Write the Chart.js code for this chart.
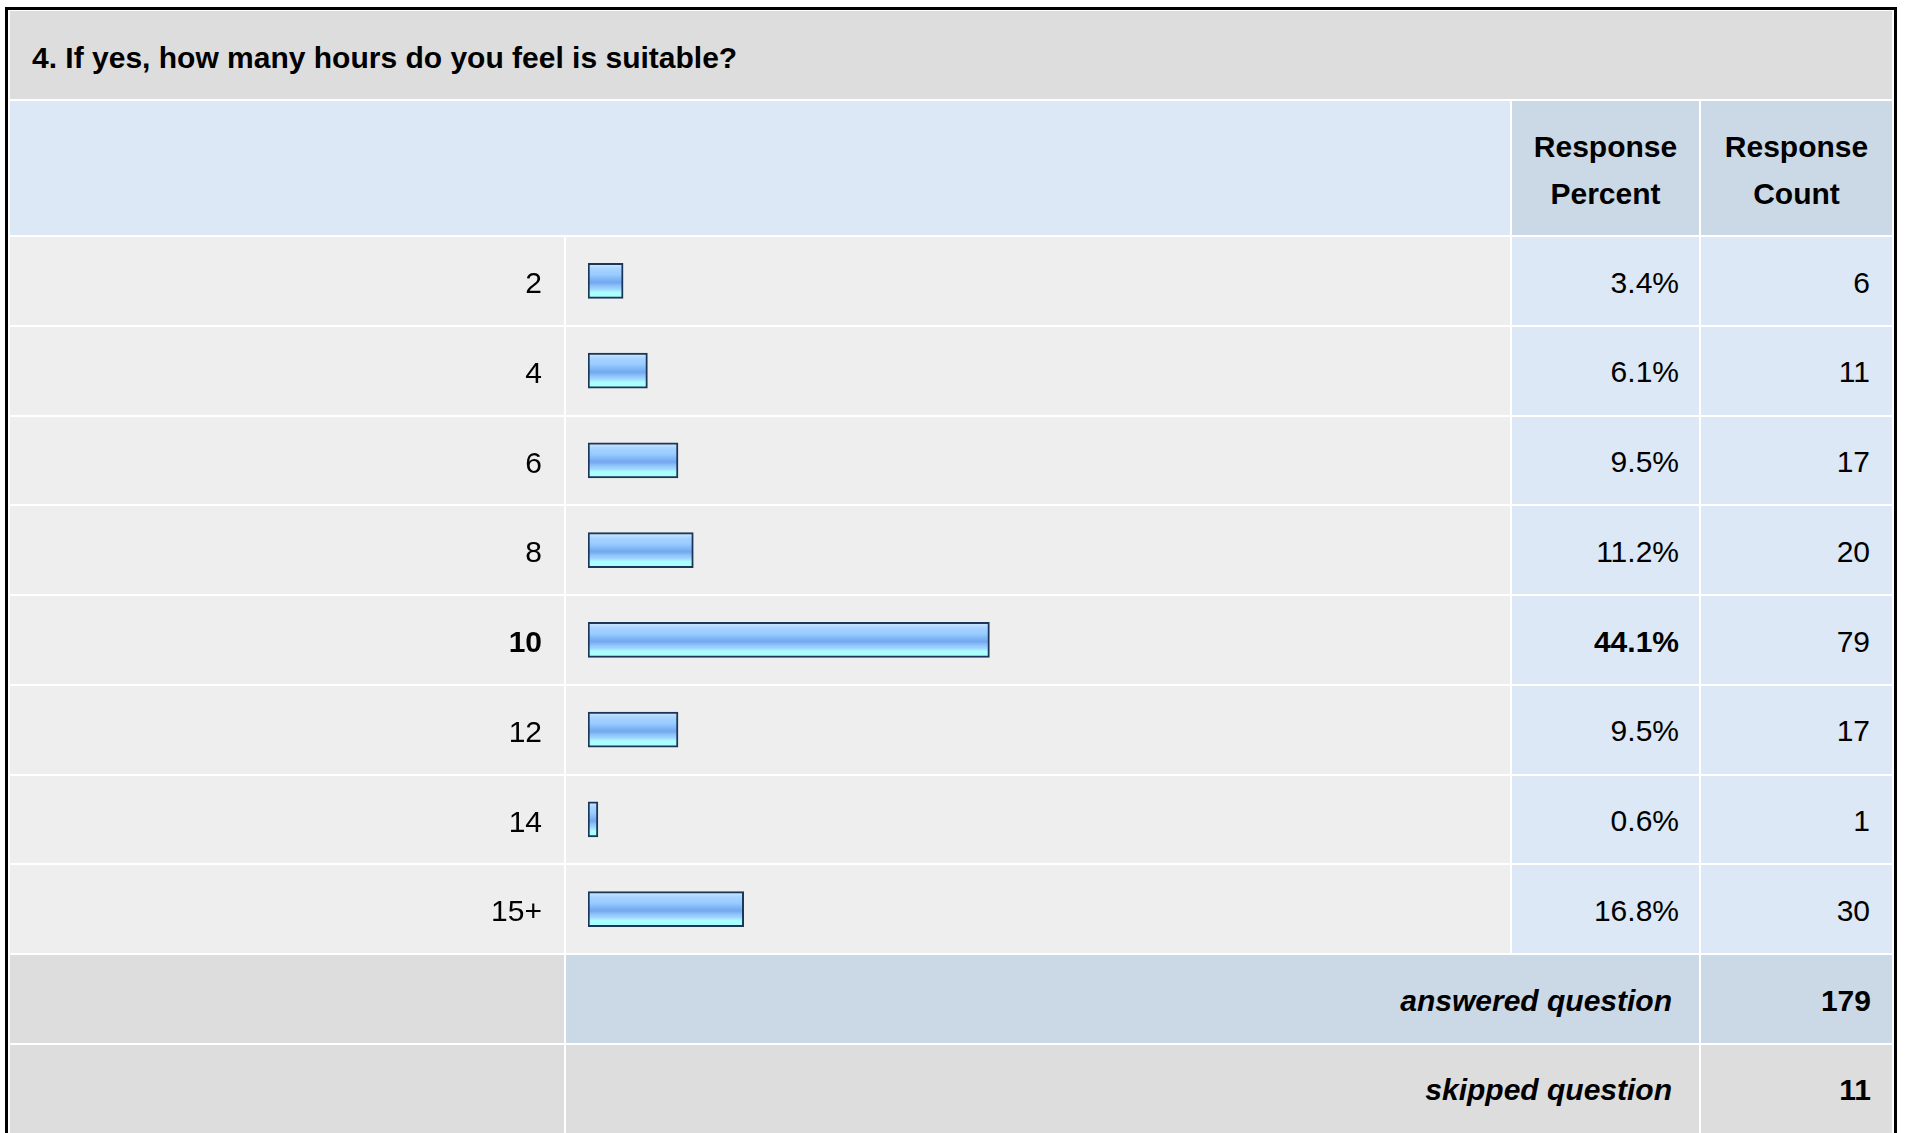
<!DOCTYPE html>
<html>
<head>
<meta charset="utf-8">
<title>Survey question 4</title>
<script src="https://cdn.jsdelivr.net/npm/chart.js@4/dist/chart.umd.min.js"></script>
<style>
    html, body { margin: 0; padding: 0; background: #fff; }
    body { width: 1907px; height: 1133px; overflow: hidden; position: relative;
           font-family: "Liberation Sans", Arial, sans-serif; font-size: 30px; color: #000; }
    .frame { position: absolute; left: 5px; top: 7px; width: 1886px; height: 1140px;
             border: 3px solid #000; background: #fff; }
    .cell { position: absolute; }
    .txt { position: absolute; line-height: 30px; white-space: nowrap; }
    .r { text-align: right; }
    .c { text-align: center; }
    .b { font-weight: bold; }
    .i { font-style: italic; }
    #chartWrap { position: absolute; left: 10px; top: 236px; }
</style>
</head>
<body>
<div class="frame"></div>
<div id="cells"></div>
<div id="texts"></div>
<div id="chartWrap"><canvas id="chart" width="1500" height="718"></canvas></div>

<script>
// Data read from the SurveyMonkey style summary
const question = '4. If yes, how many hours do you feel is suitable?';
const hours = ['2', '4', '6', '8', '10', '12', '14', '15+'];
const percents = [3.4, 6.1, 9.5, 11.2, 44.1, 9.5, 0.6, 16.8];
const counts = [6, 11, 17, 20, 79, 17, 1, 30];
const answeredCount = 179;
const skippedCount = 11;

const FONT = '"Liberation Sans", Arial, sans-serif';
const FSIZE = 30;
const top1 = percents.indexOf(Math.max(...percents));

// Table grid (page pixels)
const colX = { l0: 10, l1: 564, b0: 566, b1: 1510, p0: 1512, p1: 1699, c0: 1701, c1: 1892 };
const rowH = 89.75, row0 = 237;
const rowTop = i => row0 + i * rowH;

const cells = document.getElementById('cells');
const texts = document.getElementById('texts');

function cell(x0, x1, y0, y1, bg) {
    const d = document.createElement('div');
    d.className = 'cell';
    d.style.cssText = `left:${x0}px;top:${y0}px;width:${x1 - x0}px;height:${y1 - y0}px;background:${bg}`;
    cells.appendChild(d);
}
function text(str, cls, baseline, opts) {
    const d = document.createElement('div');
    d.className = 'txt ' + cls;
    d.textContent = str;
    let css = `top:${baseline - 25.4}px;`;
    if (opts.left != null) css += `left:${opts.left}px;`;
    if (opts.right != null) css += `right:${1907 - opts.right}px;`;
    if (opts.x0 != null) css += `left:${opts.x0}px;width:${opts.x1 - opts.x0}px;`;
    d.style.cssText = css;
    texts.appendChild(d);
}

// title + header band
cell(colX.l0, colX.c1, 11, 99, '#dddddd');
text(question, 'b', 68, { left: 32 });
cell(colX.l0, colX.b1, 101, 235, '#dce8f5');
cell(colX.p0, colX.p1, 101, 235, '#cbd8e6');
cell(colX.c0, colX.c1, 101, 235, '#cbd8e6');
text('Response', 'b c', 157, { x0: colX.p0, x1: colX.p1 });
text('Percent', 'b c', 204, { x0: colX.p0, x1: colX.p1 });
text('Response', 'b c', 157, { x0: colX.c0, x1: colX.c1 });
text('Count', 'b c', 204, { x0: colX.c0, x1: colX.c1 });

// answer rows
hours.forEach((h, i) => {
    const y0 = rowTop(i), y1 = y0 + rowH - 2;
    cell(colX.l0, colX.l1, y0, y1, '#eeeeee');
    cell(colX.b0, colX.b1, y0, y1, '#eeeeee');
    cell(colX.p0, colX.p1, y0, y1, '#dce8f5');
    cell(colX.c0, colX.c1, y0, y1, '#dce8f5');
    text(percents[i].toFixed(1) + '%', 'r' + (i === top1 ? ' b' : ''), y0 + 56, { right: 1679 });
    text(String(counts[i]), 'r', y0 + 56, { right: 1870 });
});

// footer rows
const ya = rowTop(hours.length), ys = rowTop(hours.length + 1);
cell(colX.l0, colX.l1, ya, ya + rowH - 2, '#dddddd');
cell(colX.b0, colX.p1, ya, ya + rowH - 2, '#cbd8e6');
cell(colX.c0, colX.c1, ya, ya + rowH - 2, '#cbd8e6');
cell(colX.l0, colX.l1, ys, 1140, '#dddddd');
cell(colX.b0, colX.p1, ys, 1140, '#dddddd');
cell(colX.c0, colX.c1, ys, 1140, '#dddddd');
text('answered question', 'r b i', ya + 56, { right: 1672 });
text(String(answeredCount), 'r b', ya + 56, { right: 1871 });
text('skipped question', 'r b i', ys + 56, { right: 1672 });
text(String(skippedCount), 'r b', ys + 56, { right: 1871 });

// striped blue bar fill, one gradient per bar
function barFill(c) {
    const { ctx, scales } = c.chart;
    if (!scales.y || c.dataIndex == null) return '#99ccff';
    const yc = scales.y.getPixelForValue(c.dataIndex);
    if (!isFinite(yc)) return '#99ccff';
    const g = ctx.createLinearGradient(0, yc - 16, 0, yc + 16);
    g.addColorStop(0, '#c8e4ff');
    g.addColorStop(0.12, '#a8d4ff');
    g.addColorStop(0.3, '#99ccff');
    g.addColorStop(0.45, '#80b6f6');
    g.addColorStop(0.55, '#72a8ee');
    g.addColorStop(0.66, '#8ec2fa');
    g.addColorStop(0.76, '#a0d6ff');
    g.addColorStop(0.86, '#aaffff');
    g.addColorStop(1, '#aaffff');
    return g;
}

new Chart(document.getElementById('chart'), {
    type: 'bar',
    data: {
        labels: hours,
        datasets: [{
            data: percents,
            base: -0.5,
            backgroundColor: barFill,
            borderColor: '#1b3658',
            borderWidth: 2,
            borderSkipped: false,
            barThickness: 35,
        }]
    },
    options: {
        indexAxis: 'y',
        responsive: false,
        animation: false,
        layout: { padding: { left: 0, right: 17.5, top: 0, bottom: 0 } },
        plugins: { legend: { display: false }, tooltip: { enabled: false } },
        scales: {
            x: { display: false, min: -0.5, max: 100 },
            y: {
                grid: { display: false, drawTicks: false },
                border: { display: false },
                ticks: {
                    color: '#000',
                    padding: 46,
                    labelOffset: 4,
                    font: c => ({ family: FONT, size: FSIZE, weight: c.index === top1 ? 'bold' : 'normal' }),
                },
                // fixed label column; rows must fill the full canvas height
                afterFit: s => { s.width = 578; s.paddingTop = 0; s.paddingBottom = 0; },
            }
        }
    }
});
</script>
</body>
</html>
